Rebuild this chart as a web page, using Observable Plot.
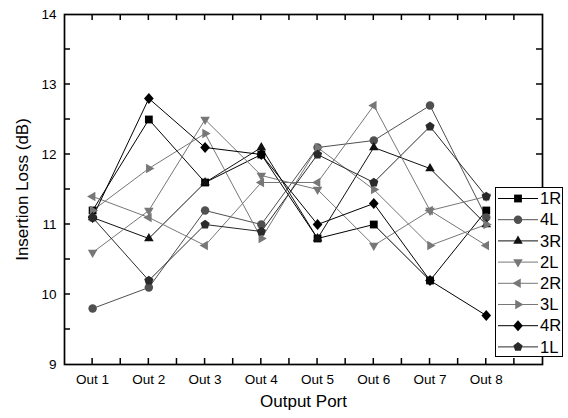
<!DOCTYPE html>
<html>
<head>
<meta charset="utf-8">
<script src="https://cdn.jsdelivr.net/npm/d3@7"></script>
<script src="https://cdn.jsdelivr.net/npm/@observablehq/plot@0.6"></script>
<style>
  html, body { margin: 0; padding: 0; background: #fff; }
  #wrap { position: relative; width: 568px; height: 418px; font-family: "Liberation Sans", Arial, sans-serif; }
  #legend { position: absolute; left: 495px; top: 187px; width: 66px; height: 168px; border: 1px solid #000; background: #fff; }
</style>
</head>
<body>
<div id="wrap"></div>
<script>
// ---- data ----
const ports = ["Out 1", "Out 2", "Out 3", "Out 4", "Out 5", "Out 6", "Out 7", "Out 8"];
const seriesNames = ["1R", "4L", "3R", "2L", "2R", "3L", "4R", "1L"];
const v1R = [11.2, 12.5, 11.6, 12.0, 10.8, 11.0, 10.2, 11.2];
const v4L = [9.8, 10.1, 11.2, 11.0, 12.1, 12.2, 12.7, 11.1];
const v3R = [11.1, 10.8, 11.6, 12.1, 10.8, 12.1, 11.8, 11.0];
const v2L = [10.6, 11.2, 12.5, 11.7, 11.5, 10.7, 11.2, 11.4];
const v2R = [11.4, 11.1, 10.7, 11.6, 11.6, 12.7, 11.2, 10.7];
const v3L = [11.2, 11.8, 12.3, 10.8, 12.1, 11.5, 10.7, 11.0];
const v4R = [11.1, 12.8, 12.1, 12.0, 11.0, 11.3, 10.2, 9.7];
const v1L = [11.1, 10.2, 11.0, 10.9, 12.0, 11.6, 12.4, 11.4];
const yMajorTicks = [9, 10, 11, 12, 13, 14];

const values = [v1R, v4L, v3R, v2L, v2R, v3L, v4R, v1L];
const colors = ["#000000", "#505050", "#111111", "#777777", "#777777", "#777777", "#000000", "#2a2a2a"];

// ---- symbols ----
function poly(pts) {
  return {
    draw(ctx, size) {
      const r = Math.sqrt(size / Math.PI);
      pts.forEach(([px, py], i) => i ? ctx.lineTo(px * r, py * r) : ctx.moveTo(px * r, py * r));
      ctx.closePath();
    }
  };
}
function regular(n, R, start) {
  const p = [];
  for (let i = 0; i < n; i++) {
    const a = start + i * 2 * Math.PI / n;
    p.push([R * Math.cos(a), R * Math.sin(a)]);
  }
  return p;
}
const circleSym = { draw(ctx, size) { const r = Math.sqrt(size / Math.PI) * 0.92; ctx.moveTo(r, 0); ctx.arc(0, 0, r, 0, 2 * Math.PI); } };
const symbols = [
  poly([[-0.85, -0.85], [0.85, -0.85], [0.85, 0.85], [-0.85, 0.85]]),   // square
  circleSym,                                                              // circle
  poly(regular(3, 1.2, -Math.PI / 2)),                                    // up
  poly(regular(3, 1.2, Math.PI / 2)),                                     // down
  poly(regular(3, 1.2, Math.PI)),                                         // left
  poly(regular(3, 1.2, 0)),                                               // right
  poly([[0, -1.2], [1.05, 0], [0, 1.2], [-1.05, 0]]),                     // diamond
  poly(regular(5, 1.05, -Math.PI / 2))                                    // pentagon
];

const data = [];
seriesNames.forEach((s, si) => values[si].forEach((v, i) => data.push({series: s, port: i + 1, loss: v})));

const W = 568, H = 418, mL = 64, mR = 26, mT = 14, mB = 54;
const xDomain = [0.5, 9], yDomain = [9, 14];
const T = 6; // inward tick length, px

const xTicks = ports.map((_, i) => i + 1);
const xMinor = d3.range(1, 9, 0.5);
const yMinor = d3.range(9.5, 14, 0.5);
const font = "Liberation Sans, Arial, sans-serif";

const marks = [];
seriesNames.forEach((s, si) => {
  const d = data.filter(r => r.series === s);
  marks.push(Plot.line(d, {x: "port", y: "loss", stroke: colors[si], strokeWidth: 1}));
});
seriesNames.forEach((s, si) => {
  const d = data.filter(r => r.series === s);
  marks.push(Plot.dot(d, {x: "port", y: "loss", symbol: symbols[si], r: 4.6, fill: colors[si], stroke: "none"}));
});

const chart = Plot.plot({
  width: W,
  height: H,
  marginLeft: mL,
  marginRight: mR,
  marginTop: mT,
  marginBottom: mB,
  style: {fontFamily: font, fontSize: "13px", background: "#fff", color: "#000"},
  x: {type: "linear", domain: xDomain, label: null},
  y: {domain: yDomain, label: null},
  marks: [
    ...marks,
    Plot.frame({stroke: "#000", strokeWidth: 1.7}),
    Plot.axisX(xTicks, {anchor: "bottom", tickSize: 0, tickPadding: 10, tickFormat: d => ports[d - 1], fontSize: 13.5, label: null}),
    Plot.axisY(yMajorTicks, {anchor: "left", tickSize: 0, tickPadding: 8, tickFormat: d => String(d), fontSize: 13.5, label: null}),
    Plot.text(["Output Port"], {frameAnchor: "bottom", dy: 42, fontSize: 17, fill: "#000"}),
    Plot.text(["Insertion Loss (dB)"], {frameAnchor: "left", textAnchor: "middle", dx: -42, rotate: -90, fontSize: 17, fill: "#000"})
  ]
});

// ---- inward tick marks, positioned with the chart's own x/y scales ----
function scaleFn(name) {
  const s = chart.scale(name);
  if (s && typeof s.apply === "function") return v => s.apply(v);
  return d3.scaleLinear().domain(s.domain).range(s.range);
}
const sx = scaleFn("x"), sy = scaleFn("y");
const [xa, xb] = [sx(xDomain[0]), sx(xDomain[1])];
const [yBot, yTop] = [sy(yDomain[0]), sy(yDomain[1])];
const tg = d3.select(chart).append("g").attr("stroke", "#000").attr("stroke-width", 1.5).attr("fill", "none");
xMinor.forEach(v => {
  const x = sx(v);
  tg.append("line").attr("x1", x).attr("x2", x).attr("y1", yBot).attr("y2", yBot - T);
  tg.append("line").attr("x1", x).attr("x2", x).attr("y1", yTop).attr("y2", yTop + T);
});
yMinor.forEach(v => {
  const y = sy(v);
  tg.append("line").attr("x1", xa).attr("x2", xa + T).attr("y1", y).attr("y2", y);
  tg.append("line").attr("x1", xb).attr("x2", xb - T).attr("y1", y).attr("y2", y);
});

const wrap = document.getElementById("wrap");
wrap.appendChild(chart);

// ---- legend ----
const leg = document.createElement("div");
leg.id = "legend";
wrap.appendChild(leg);
const svg = d3.select(leg).append("svg").attr("width", 66).attr("height", 168);
seriesNames.forEach((s, i) => {
  const y = 10.5 + i * 21.2;
  const g = svg.append("g").attr("transform", `translate(0,${y})`);
  g.append("line").attr("x1", 2).attr("x2", 42).attr("y1", 0).attr("y2", 0).attr("stroke", colors[i]).attr("stroke-width", 1);
  g.append("path").attr("transform", "translate(22,0)")
    .attr("d", d3.symbol().type(symbols[i]).size(Math.PI * 4.6 * 4.6)())
    .attr("fill", colors[i]);
  g.append("text").attr("x", 44).attr("y", 0).attr("dy", "0.35em")
    .attr("font-family", font).attr("font-size", 16.5).attr("fill", "#000").text(s);
});
</script>
</body>
</html>
